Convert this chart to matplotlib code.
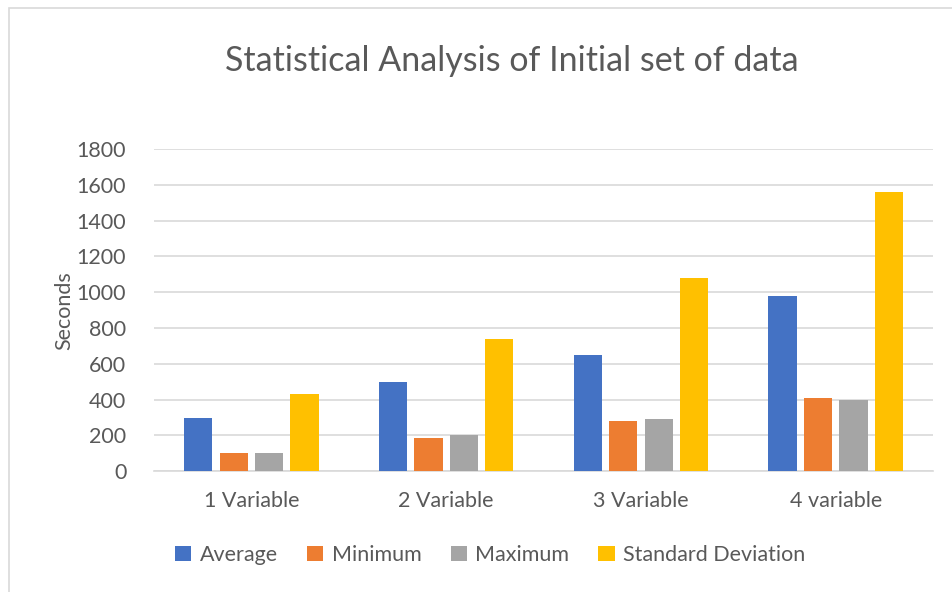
import numpy as np
import matplotlib.pyplot as plt
from matplotlib.patches import Rectangle

categories = ["1 Variable", "2 Variable", "3 Variable", "4 variable"]
series_names = ["Average", "Minimum", "Maximum", "Standard Deviation"]
average = [295, 500, 648, 980]
minimum = [100, 188, 281, 408]
maximum = [104, 200, 290, 398]
std_dev = [430, 740, 1080, 1560]
colors = ["#4472C4", "#ED7D31", "#A5A5A5", "#FFC000"]

text_col = "#595959"
grid_col = "#d9d9d9"
plt.rcParams['font.family'] = ['Lato', 'DejaVu Sans']

fig = plt.figure(figsize=(9.52, 5.92), dpi=100)
ax = fig.add_axes([0.1618, 0.2039, 0.8183, 0.5444])

# outer chart frame (Excel style)
fig.patches.append(Rectangle((9/952, -0.02), 1.1, 1 - 8/592 + 0.02, transform=fig.transFigure,
                             fill=False, edgecolor=grid_col, linewidth=1.2))

x = np.arange(len(categories))
step = 0.182
width = 0.145
all_series = [average, minimum, maximum, std_dev]
for i, vals in enumerate(all_series):
    ax.bar(x + (i - 1.5) * step, vals, width, color=colors[i], label=series_names[i], zorder=3)

ax.set_xlim(-0.5, 3.5)
ax.set_ylim(0, 1800)
ax.set_yticks(np.arange(0, 1801, 200))
ax.set_xticks(x)
ax.set_xticklabels(categories)
ax.grid(axis='y', color=grid_col, linewidth=1.2, zorder=0)
for s in ['top', 'right', 'left']:
    ax.spines[s].set_visible(False)
ax.spines['bottom'].set_color(grid_col)
ax.spines['bottom'].set_linewidth(1.2)
ax.tick_params(axis='both', length=0, labelsize=15.5, colors=text_col)
ax.tick_params(axis='x', pad=14)
ax.tick_params(axis='y', pad=20)
ax.set_ylabel("Seconds", fontsize=15.5, color=text_col, labelpad=2)

fig.text(0.538, 1 - 61/592, "Statistical Analysis of Initial set of data", ha='center', va='center',
         fontsize=24.5, color=text_col)

fig.legend(loc='center', bbox_to_anchor=(0.515, 1 - 555/592), ncol=4, frameon=False,
           fontsize=15.5, labelcolor=text_col, handlelength=0.75, handleheight=0.75,
           handletextpad=0.4, columnspacing=1.35)

plt.savefig("out.png", dpi=100)
